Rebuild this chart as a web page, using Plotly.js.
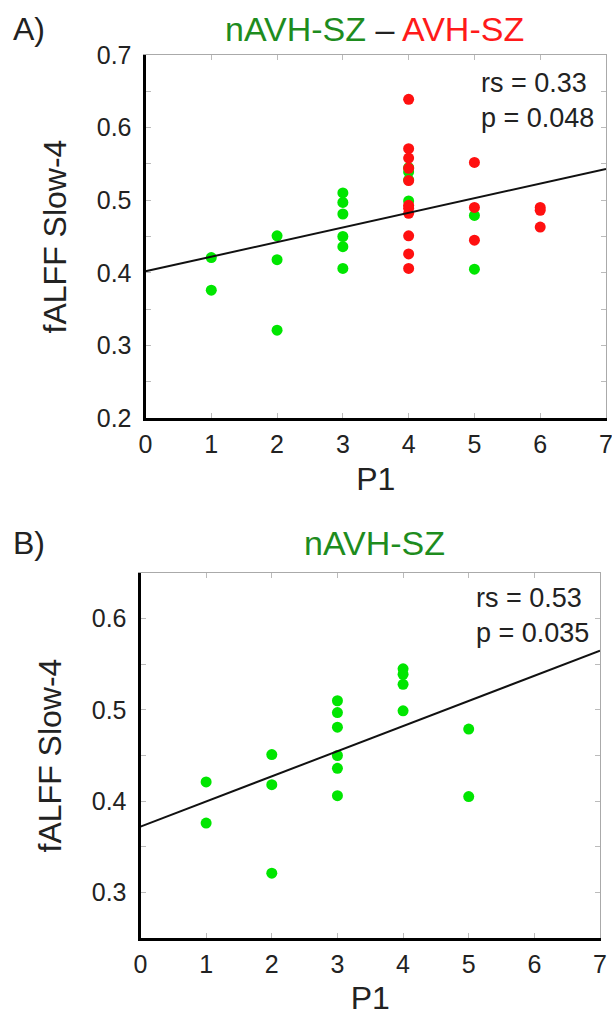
<!DOCTYPE html>
<html>
<head>
<meta charset="utf-8">
<script src="https://cdn.plot.ly/plotly-3.0.1.min.js"></script>
<style>html,body{margin:0;padding:0;background:#fff;}#chart{width:612px;height:1016px;}</style>
</head>
<body>
<div id="chart"></div>
<script>
// ---- Data ----
// Panel A: nAVH-SZ (green) and AVH-SZ (red)
const nAvhP1 = [1, 1, 2, 2, 2, 3, 3, 3, 3, 3, 3, 4, 4, 4, 4, 5, 5];
const nAvhFalff = [0.421, 0.376, 0.451, 0.418, 0.321, 0.510, 0.497, 0.481, 0.450, 0.436, 0.406, 0.545, 0.539, 0.528, 0.499, 0.479, 0.405];
const avhP1 = [4, 4, 4, 4, 4, 4, 4, 4, 4, 4, 4, 5, 5, 5, 6, 6, 6];
const avhFalff = [0.639, 0.571, 0.558, 0.544, 0.527, 0.493, 0.489, 0.482, 0.451, 0.426, 0.406, 0.552, 0.490, 0.445, 0.490, 0.486, 0.463];
// Fitted lines (end points)
const fitX = [0, 7];
const fitA = [0.402, 0.543];
const fitB = [0.372, 0.565];
// Statistics
const statsA = ["rs = 0.33", "p = 0.048"];
const statsB = ["rs = 0.53", "p = 0.035"];
// Tick labels
const xTicks = [0, 1, 2, 3, 4, 5, 6, 7];
const yTicksA = [0.2, 0.3, 0.4, 0.5, 0.6, 0.7];
const yTicksB = [0.3, 0.4, 0.5, 0.6];

const FONT = "Liberation Sans, Arial, Helvetica, sans-serif";
const GREEN = "#00e600";
const RED = "#ff1010";
const TGREEN = "#1e8c1e";
const TRED = "#ff1a1a";

const W = 612, H = 1016;
const px = v => v / W;
const py = v => 1 - v / H;

const traces = [
  {x: nAvhP1, y: nAvhFalff, xaxis: "x", yaxis: "y", mode: "markers", type: "scatter",
   marker: {color: GREEN, size: 11}, showlegend: false},
  {x: avhP1, y: avhFalff, xaxis: "x", yaxis: "y", mode: "markers", type: "scatter",
   marker: {color: RED, size: 11}, showlegend: false},
  {x: fitX, y: fitA, xaxis: "x", yaxis: "y", mode: "lines", type: "scatter",
   line: {color: "#111", width: 2}, showlegend: false},
  {x: nAvhP1, y: nAvhFalff, xaxis: "x2", yaxis: "y2", mode: "markers", type: "scatter",
   marker: {color: GREEN, size: 11}, showlegend: false},
  {x: fitX, y: fitB, xaxis: "x2", yaxis: "y2", mode: "lines", type: "scatter",
   line: {color: "#111", width: 2}, showlegend: false},
  // frame axes (top/right thin borders with ticks)
  {x: [], y: [], xaxis: "x3", yaxis: "y3", type: "scatter", showlegend: false},
  {x: [], y: [], xaxis: "x4", yaxis: "y4", type: "scatter", showlegend: false}
];

const tickFont = {family: FONT, size: 25, color: "#222"};
const titleFont = {family: FONT, size: 32, color: "#222"};

function mainX(domain, anchor) {
  return {domain: domain, anchor: anchor, range: [0, 7], tickvals: xTicks,
    showline: true, linewidth: 3, linecolor: "#000", showgrid: false, zeroline: false,
    ticks: "inside", ticklen: 5, tickwidth: 1, tickcolor: "#bbb",
    tickfont: tickFont, ticklabelstandoff: 2, ticklabeloverflow: "allow",
    title: {text: "P1", font: titleFont, standoff: 11}};
}
function mainY(domain, anchor, range, vals) {
  return {domain: domain, anchor: anchor, range: range, tickvals: vals,
    ticktext: vals.map(v => v.toFixed(1)),
    showline: true, linewidth: 3, linecolor: "#000", showgrid: false, zeroline: false,
    ticks: "inside", ticklen: 5, tickwidth: 1, tickcolor: "#bbb",
    minor: {dtick: 0.05, tick0: 0, ticks: "inside", ticklen: 5, tickcolor: "#bbb", showgrid: false},
    tickfont: tickFont, ticklabelstandoff: 6,
    title: {text: "fALFF Slow-4", font: titleFont, standoff: 21}};
}
function frameX(domain, anchor, overlay) {
  return {domain: domain, anchor: anchor, overlaying: overlay, side: "top", range: [0, 7],
    tickvals: xTicks, showticklabels: false, showline: true, linewidth: 1, linecolor: "#aaa",
    showgrid: false, zeroline: false, ticks: "inside", ticklen: 5, tickcolor: "#bbb"};
}
function frameY(domain, anchor, overlay, range) {
  return {domain: domain, anchor: anchor, overlaying: overlay, side: "right", range: range,
    dtick: 0.05, tick0: 0, showticklabels: false, showline: true, linewidth: 1, linecolor: "#aaa",
    showgrid: false, zeroline: false, ticks: "inside", ticklen: 5, tickcolor: "#bbb"};
}

const dxA = [px(145.5), px(606)], dyA = [py(418), py(55)];
const dxB = [px(140.5), px(600)], dyB = [py(938), py(573)];
const rA = [0.2, 0.7], rB = [0.25, 0.65];

const layout = {
  width: W, height: H, margin: {l: 0, r: 0, t: 0, b: 0},
  paper_bgcolor: "#fff", plot_bgcolor: "rgba(0,0,0,0)", showlegend: false,
  font: {family: FONT, color: "#222"},
  xaxis: mainX(dxA, "y"), yaxis: mainY(dyA, "x", rA, yTicksA),
  xaxis2: mainX(dxB, "y2"), yaxis2: mainY(dyB, "x2", rB, yTicksB),
  xaxis3: frameX(dxA, "y3", "x"), yaxis3: frameY(dyA, "x3", "y", rA),
  xaxis4: frameX(dxB, "y4", "x2"), yaxis4: frameY(dyB, "x4", "y2", rB),
  annotations: [
    {text: "A)", xref: "paper", yref: "paper", x: px(11), y: py(29), xanchor: "left", yanchor: "middle",
     showarrow: false, font: {family: FONT, size: 32, color: "#222"}},
    {text: '<span style="color:' + TGREEN + '">nAVH-SZ</span> – <span style="color:' + TRED + '">AVH-SZ</span>',
     xref: "paper", yref: "paper", x: px(374), y: py(29), xanchor: "center", yanchor: "middle",
     showarrow: false, font: {family: FONT, size: 34, color: "#222"}},
    {text: "B)", xref: "paper", yref: "paper", x: px(11), y: py(543), xanchor: "left", yanchor: "middle",
     showarrow: false, font: {family: FONT, size: 32, color: "#222"}},
    {text: "nAVH-SZ", xref: "paper", yref: "paper", x: px(374), y: py(543), xanchor: "center", yanchor: "middle",
     showarrow: false, font: {family: FONT, size: 34, color: TGREEN}},
    {text: statsA.join("<br>"), xref: "paper", yref: "paper", x: px(479), y: py(66), xanchor: "left", yanchor: "top",
     align: "left", showarrow: false, font: {family: FONT, size: 27, color: "#222"}},
    {text: statsB.join("<br>"), xref: "paper", yref: "paper", x: px(474), y: py(581), xanchor: "left", yanchor: "top",
     align: "left", showarrow: false, font: {family: FONT, size: 27, color: "#222"}}
  ]
};

Plotly.newPlot("chart", traces, layout, {staticPlot: true, displayModeBar: false});
</script>
</body>
</html>
